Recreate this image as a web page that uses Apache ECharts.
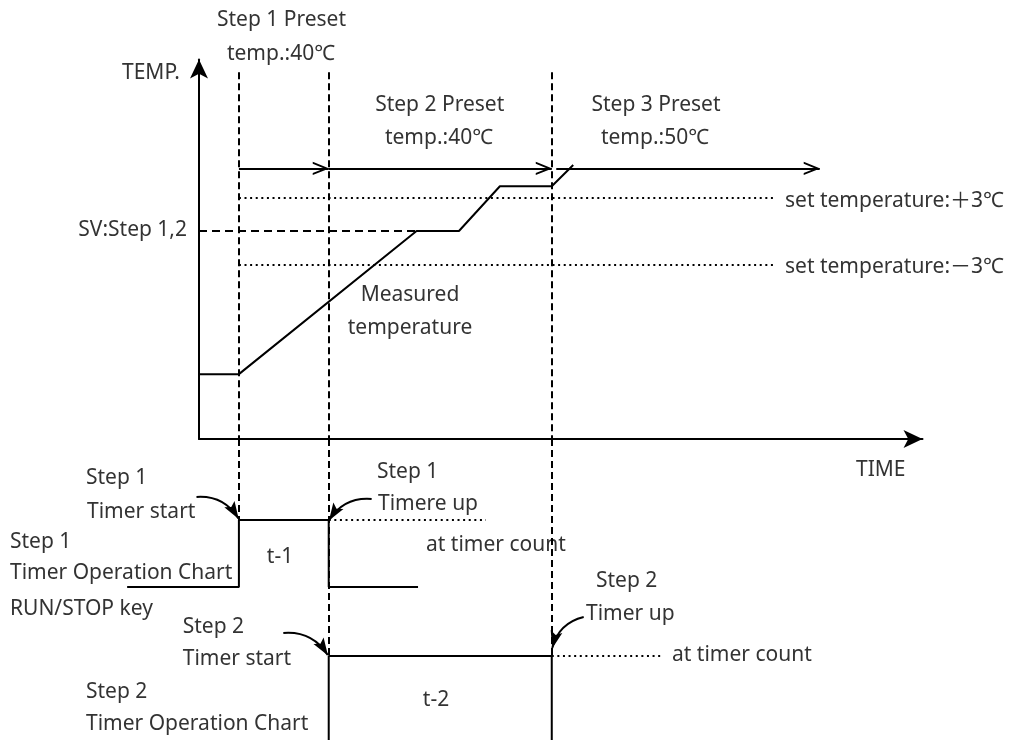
<!DOCTYPE html>
<html><head><meta charset="utf-8">
<script src="https://cdn.jsdelivr.net/npm/echarts@6/dist/echarts.min.js"></script>
<style>html,body{margin:0;padding:0;background:#fff}#c{width:1010px;height:740px}</style>
</head><body><div id="c"></div>
<script>
// ---------------- data ----------------
// time axis (arbitrary time units), temperature in ℃, timer signal levels
const stepStartTimes = [8, 26, 70.7];          // step1 start, step2 start (step1 up), step3 start (step2 up)
const measuredTime = [0, 8, 43.6, 52.1, 60.3, 70.7, 75.0];
const measuredTemp = [27.2, 27.2, 40, 40, 44.0, 44.0, 45.9];
const svTemp = 40;                              // SV: Step 1,2
const svReachTime = 43.6;
const bandTemps = [43, 37];                     // set temperature +3℃ / -3℃
const bandSpan = [8, 115.4];
const stepArrowTemp = 45.6;
const stepArrowSpans = [[8, 26], [26, 70.7], [71.6, 124.4]];
const guideTopTemp = 54.2;
const guideEndLevels = [22, 8.4, 8.4];
// timer operation charts
const timer1Time = [-14.4, 8, 8, 26, 26, 43.9];
const timer1Level = [15.3, 15.3, 22, 22, 15.3, 15.3];
const timer2Time = [26, 26, 70.7, 70.7];
const timer2Level = [0, 8.4, 8.4, 0];
const countLines = [[[26, 22], [57.5, 22]], [[70.7, 8.4], [92.8, 8.4]]];
const pointerArrows = [
  { from: [-0.5, 24.3], to: [7.9, 22.15], curve: 0.3 },
  { from: [34.6, 24.1], to: [26.1, 22.0], curve: -0.3 },
  { from: [16.9, 10.7], to: [25.8, 8.5], curve: 0.3 },
  { from: [77.1, 12.3], to: [70.8, 9.2], curve: -0.3 }
];

// ---------------- styling ----------------
const FONT = '21px "Noto Sans", "Noto Sans CJK SC", sans-serif';
const TXT = '#333';
const CHEVRON = 'path://M0,0 L0,0 M32,32 L32,32 M16,15.5 L22.6,32 L20.6,32 L16,20.5 L11.4,32 L9.4,32 Z';
const HEAD = 'path://M0,0 L0,0 M36,36 L36,36 M18,17.5 L24,35 L18,31.5 L12,35 Z';
const zip = (xs, ys) => xs.map((x, i) => [x, ys[i]]);

function txt(text, x, y, align) {
  return { type: 'text', x: x, y: y, silent: true,
    style: { text: text, fill: TXT, font: FONT, align: align || 'left', verticalAlign: 'middle' } };
}
const A = { xAxisIndex: 0, yAxisIndex: 0 };
const B = { xAxisIndex: 1, yAxisIndex: 1 };
function segs(list, ext) {
  return Object.assign({ type: 'lines', coordinateSystem: 'cartesian2d', silent: true,
    data: list.map(c => ({ coords: c })) }, ext);
}

const option = {
  animation: false,
  backgroundColor: '#fff',
  grid: [
    { left: 199, right: 87.5, top: 59.5, bottom: 301 },
    { left: 0, right: 87.5, top: 439, bottom: 0 }
  ],
  xAxis: [
    { type: 'value', gridIndex: 0, min: 0, max: 145,
      name: 'TIME', nameLocation: 'end', nameGap: -66.5,
      nameTextStyle: { color: TXT, fontSize: 21, fontFamily: 'Noto Sans', align: 'left', verticalAlign: 'top', padding: [21, 0, 0, 0] },
      axisLine: { show: true, onZero: false, symbol: ['none', 'arrow'], symbolSize: [13.5, 19], lineStyle: { color: '#000', width: 2 } },
      axisTick: { show: false }, axisLabel: { show: false }, splitLine: { show: false } },
    { type: 'value', gridIndex: 1, min: -39.88, max: 145, show: false }
  ],
  yAxis: [
    { type: 'value', gridIndex: 0, min: 21.4, max: 55.34,
      name: 'TEMP.', nameLocation: 'end', nameGap: -13.5,
      nameTextStyle: { color: TXT, fontSize: 21, fontFamily: 'Noto Sans', align: 'right', verticalAlign: 'middle', padding: [0, 19, 0, 0] },
      axisLine: { show: true, onZero: false, symbol: ['none', 'arrow'], symbolSize: [13.5, 19], lineStyle: { color: '#000', width: 2 } },
      axisTick: { show: false }, axisLabel: { show: false }, splitLine: { show: false } },
    { type: 'value', gridIndex: 1, min: 0, max: 30.1, show: false }
  ],
  series: [
    // vertical guides (dashed)
    segs(stepStartTimes.map(t => [[t, guideTopTemp], [t, 21.4]]), Object.assign({
      lineStyle: { color: '#000', width: 2, type: [7, 4], opacity: 1 } }, A)),
    segs(stepStartTimes.map((t, i) => [[t, 30.1], [t, guideEndLevels[i]]]), Object.assign({
      lineStyle: { color: '#000', width: 2, type: [7, 4], opacity: 1 } }, B)),
    // SV dashed
    segs([[[0, svTemp], [svReachTime, svTemp]]], Object.assign({
      lineStyle: { color: '#000', width: 2, type: [8, 5], opacity: 1 } }, A)),
    // +-3 ℃ dotted
    segs(bandTemps.map(v => [[bandSpan[0], v], [bandSpan[1], v]]), Object.assign({
      lineStyle: { color: '#000', width: 2, type: [2, 3.6], opacity: 1 } }, A)),
    // step preset arrows
    segs(stepArrowSpans.map(s => [[s[0], stepArrowTemp], [s[1], stepArrowTemp]]), Object.assign({
      symbol: ['none', CHEVRON], symbolSize: [0, 32],
      lineStyle: { color: '#000', width: 2, opacity: 1 } }, A)),
    // measured temperature
    Object.assign({ type: 'line', data: zip(measuredTime, measuredTemp), symbol: 'none', silent: true,
      lineStyle: { color: '#000', width: 2 } }, A),
    // timers
    Object.assign({ type: 'line', data: zip(timer1Time, timer1Level), symbol: 'none', silent: true,
      lineStyle: { color: '#000', width: 2 } }, B),
    Object.assign({ type: 'line', data: zip(timer2Time, timer2Level), symbol: 'none', silent: true,
      lineStyle: { color: '#000', width: 2 } }, B),
    segs(countLines, Object.assign({
      lineStyle: { color: '#000', width: 2, type: [2, 3.6], opacity: 1 } }, B)),
    // curved pointer arrows
    Object.assign({ type: 'lines', coordinateSystem: 'cartesian2d', silent: true, z: 10,
      symbol: ['none', HEAD], symbolSize: [0, 36],
      lineStyle: { color: '#000', width: 2, opacity: 1 },
      data: pointerArrows.map(a => ({ coords: [a.from, a.to], lineStyle: { curveness: a.curve } })) }, B)
  ],
  graphic: [
    txt('Step 1 Preset', 281.5, 20, 'center'),
    txt('temp.:40℃', 281, 54, 'center'),
    txt('Step 2 Preset', 439.7, 105, 'center'),
    txt('temp.:40℃', 439, 138.5, 'center'),
    txt('Step 3 Preset', 656, 105, 'center'),
    txt('temp.:50℃', 655, 138.5, 'center'),
    txt('SV:Step 1,2', 187, 230, 'right'),
    txt('set temperature:＋3℃', 785, 201),
    txt('set temperature:－3℃', 785, 267.5),
    txt('Measured', 410, 295, 'center'),
    txt('temperature', 410, 328, 'center'),
    txt('Step 1', 86, 478.5),
    txt('Timer start', 87, 512),
    txt('Step 1', 10, 542),
    txt('Timer Operation Chart', 10, 573.5),
    txt('RUN/STOP key', 10, 609.5),
    txt('Step 2', 182.7, 627),
    txt('Timer start', 182.7, 659),
    txt('Step 2', 86, 692),
    txt('Timer Operation Chart', 86, 724),
    txt('t-1', 280, 557, 'center'),
    txt('t-2', 436, 700, 'center'),
    txt('Step 1', 377, 472),
    txt('Timere up', 378, 504),
    txt('at timer count', 426, 545),
    txt('Step 2', 596, 581),
    txt('Timer up', 586, 614),
    txt('at timer count', 672, 655)
  ]
};
const chart = echarts.init(document.getElementById('c'), null, { renderer: 'canvas' });
chart.setOption(option);
</script>
</body></html>
